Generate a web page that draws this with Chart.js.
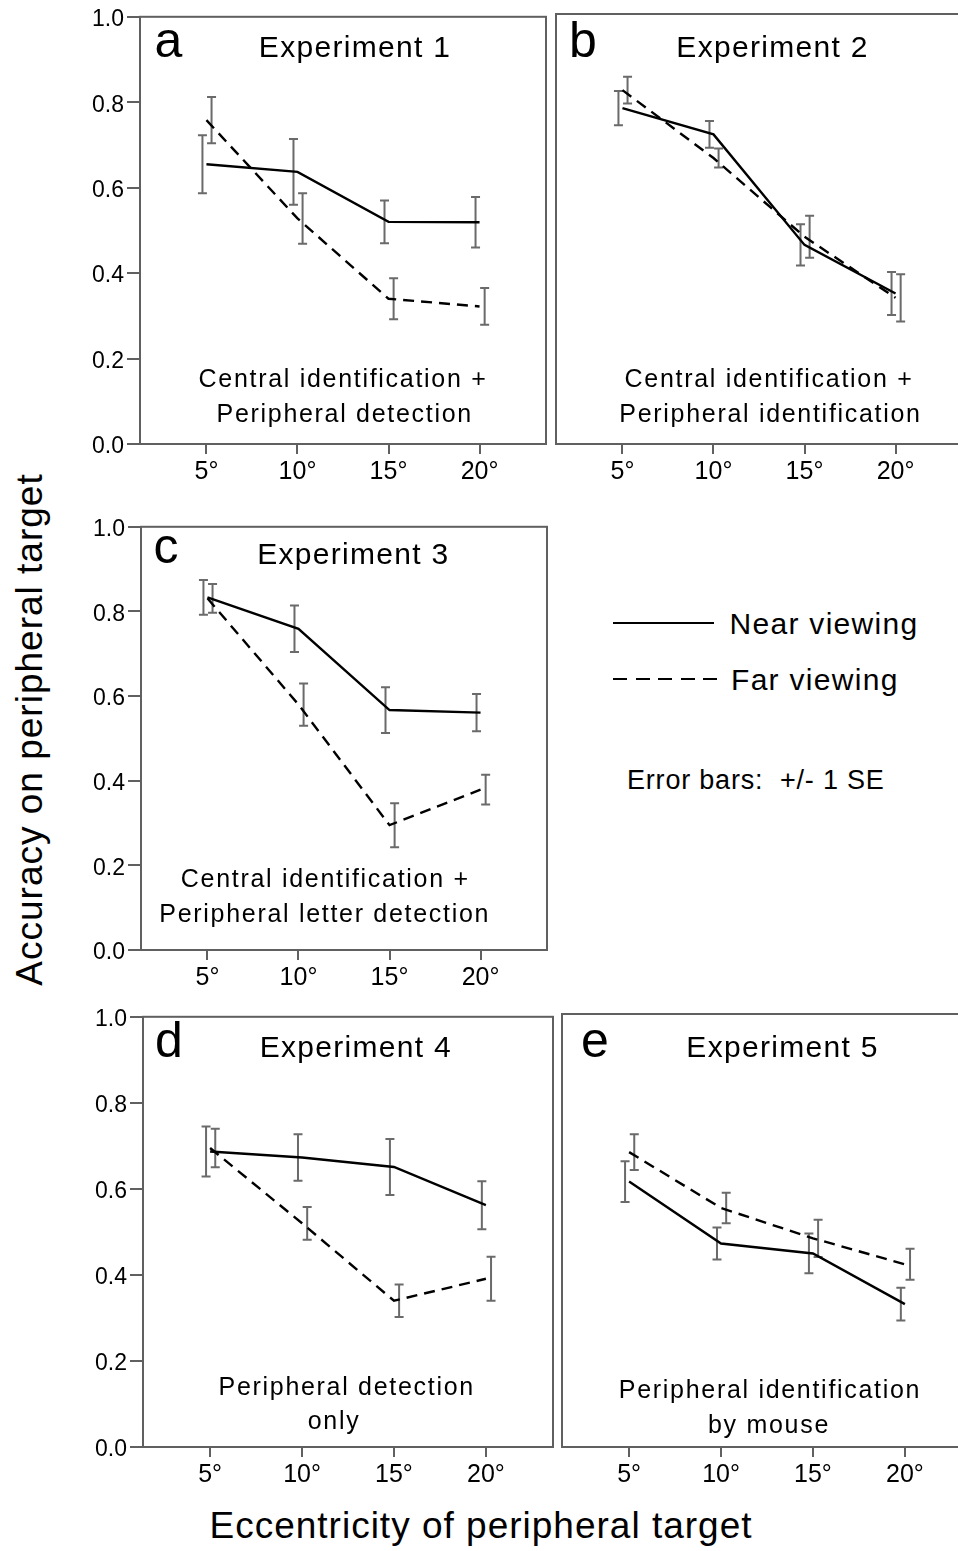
<!DOCTYPE html>
<html>
<head>
<meta charset="utf-8">
<script src="https://cdn.jsdelivr.net/npm/chart.js@4.4.1/dist/chart.umd.min.js"></script>
<style>
  html, body { margin: 0; padding: 0; background: #fff; }
  body { width: 958px; height: 1551px; position: relative; overflow: hidden;
         font-family: "Liberation Sans", Arial, sans-serif; color: #000; }
  canvas { position: absolute; }
  .txt { position: absolute; white-space: pre; line-height: 1; }
</style>
</head>
<body>
<div class="txt" id="ytitle" style="font-size:37px;letter-spacing:1px;width:600px;height:37px;line-height:37px;text-align:center;left:-271px;top:710.5px;transform:rotate(-90deg);">Accuracy on peripheral target</div>
<div class="txt" style="font-size:37px;letter-spacing:1px;width:700px;text-align:center;left:131px;top:1506.7px;">Eccentricity of peripheral target</div>

<div style="position:absolute;left:613px;top:622px;width:101px;height:2px;background:#000;"></div>
<div style="position:absolute;left:613px;top:678px;width:104px;height:2px;background:repeating-linear-gradient(to right,#000 0 14px,transparent 14px 22.5px);"></div>
<div class="txt" style="font-size:30px;letter-spacing:1.3px;left:729.5px;top:608.9px;">Near viewing</div>
<div class="txt" style="font-size:30px;letter-spacing:1.3px;left:731px;top:664.6px;">Far viewing</div>
<div class="txt" style="font-size:27px;letter-spacing:0.8px;left:627px;top:767.1px;">Error bars:  +/- 1 SE</div>

<script>
// 5 つの実験パネルを個別の Chart として描き、誤差棒・枠・文字はプラグインで重ねる。

const eccentricity = [5, 10, 15, 20];
const xTicks = [5, 10, 15, 20];
const yTicks = [0, 0.2, 0.4, 0.6, 0.8, 1.0];

// Experiment 1
const exp1Near = [0.655, 0.637, 0.520, 0.519];
const exp1NearSE = [0.068, 0.077, 0.050, 0.059];
const exp1Far = [0.758, 0.528, 0.340, 0.322];
const exp1FarSE = [0.054, 0.059, 0.048, 0.043];

// Experiment 2
const exp2Near = [0.781, 0.720, 0.463, 0.350];
const exp2NearSE = [0.040, 0.031, 0.048, 0.050];
const exp2Far = [0.823, 0.665, 0.482, 0.340];
const exp2FarSE = [0.031, 0.022, 0.049, 0.055];

// Experiment 3
const exp3Near = [0.833, 0.759, 0.567, 0.561];
const exp3NearSE = [0.041, 0.055, 0.054, 0.044];
const exp3Far = [0.831, 0.580, 0.295, 0.379];
const exp3FarSE = [0.034, 0.050, 0.052, 0.035];

// Experiment 4
const exp4Near = [0.687, 0.673, 0.651, 0.562];
const exp4NearSE = [0.058, 0.054, 0.065, 0.056];
const exp4Far = [0.695, 0.520, 0.340, 0.391];
const exp4FarSE = [0.045, 0.038, 0.038, 0.051];

// Experiment 5
const exp5Near = [0.613, 0.470, 0.447, 0.330];
const exp5NearSE = [0.047, 0.037, 0.046, 0.038];
const exp5Far = [0.681, 0.552, 0.482, 0.422];
const exp5FarSE = [0.041, 0.035, 0.043, 0.036];

const FONT = '"Liberation Sans", Arial, sans-serif';
const BOX_GREY = "#606060";
const ERR_GREY = "#6a6a6a";

const panels = [
  {
    letter: "a", title: "Experiment 1", near: exp1Near, nearSE: exp1NearSE, far: exp1Far, farSE: exp1FarSE,
    box: { l: 140, t: 14, r: 546, b: 444 }, yAxis: true,
    letterPos: [154.5, 57], titlePos: [355, 57.3],
    notes: [["Central identification +", 343, 386.7], ["Peripheral detection", 344.7, 421.5]],
  },
  {
    letter: "b", title: "Experiment 2", near: exp2Near, nearSE: exp2NearSE, far: exp2Far, farSE: exp2FarSE,
    box: { l: 556, t: 14, r: 962, b: 444 }, yAxis: false,
    letterPos: [569, 57], titlePos: [772.5, 57.3],
    notes: [["Central identification +", 769, 386.7], ["Peripheral identification", 770.5, 421.7]],
  },
  {
    letter: "c", title: "Experiment 3", near: exp3Near, nearSE: exp3NearSE, far: exp3Far, farSE: exp3FarSE,
    box: { l: 141, t: 524, r: 547, b: 950 }, yAxis: true,
    letterPos: [153.5, 563.3], titlePos: [353.3, 564],
    notes: [["Central identification +", 325.3, 886.7], ["Peripheral letter detection", 324.7, 921.7]],
  },
  {
    letter: "d", title: "Experiment 4", near: exp4Near, nearSE: exp4NearSE, far: exp4Far, farSE: exp4FarSE,
    box: { l: 143, t: 1014, r: 553, b: 1447 }, yAxis: true,
    letterPos: [155, 1057.3], titlePos: [355.8, 1057.3],
    notes: [["Peripheral detection", 346.7, 1395], ["only", 334, 1429]],
  },
  {
    letter: "e", title: "Experiment 5", near: exp5Near, nearSE: exp5NearSE, far: exp5Far, farSE: exp5FarSE,
    box: { l: 562, t: 1014, r: 972, b: 1447 }, yAxis: false,
    letterPos: [581, 1057.3], titlePos: [782.5, 1057.3],
    notes: [["Peripheral identification", 770, 1398.3], ["by mouse", 769, 1433]],
  },
];

function decorPlugin(p, ox, oy) {
  return {
    id: "panelDecor",
    beforeDatasetsDraw(chart) {
      const ctx = chart.ctx;
      const xs = chart.scales.x;
      const ys = chart.scales.y;
      ctx.save();
      ctx.strokeStyle = ERR_GREY;
      ctx.lineWidth = 2;
      [[p.near, p.nearSE, -0.22], [p.far, p.farSE, 0.28]].forEach(([means, se, off]) => {
        means.forEach((v, i) => {
          const x = xs.getPixelForValue(eccentricity[i] + off);
          const y1 = ys.getPixelForValue(v - se[i]);
          const y2 = ys.getPixelForValue(v + se[i]);
          ctx.beginPath();
          ctx.moveTo(x, y1); ctx.lineTo(x, y2);
          ctx.moveTo(x - 4.5, y1); ctx.lineTo(x + 4.5, y1);
          ctx.moveTo(x - 4.5, y2); ctx.lineTo(x + 4.5, y2);
          ctx.stroke();
        });
      });
      ctx.restore();
    },
    afterDraw(chart) {
      const ctx = chart.ctx;
      const a = chart.chartArea;
      ctx.save();
      ctx.strokeStyle = BOX_GREY;
      ctx.lineWidth = 2;
      ctx.strokeRect(a.left, a.top, a.right - a.left, a.bottom - a.top);

      ctx.fillStyle = "#000";
      ctx.textBaseline = "alphabetic";
      ctx.textAlign = "left";
      ctx.font = `50px ${FONT}`;
      ctx.fillText(p.letter, p.letterPos[0] - ox, p.letterPos[1] - oy);

      ctx.textAlign = "center";
      ctx.font = `30px ${FONT}`;
      ctx.letterSpacing = "1.3px";
      ctx.fillText(p.title, p.titlePos[0] - ox, p.titlePos[1] - oy);

      ctx.font = `25px ${FONT}`;
      ctx.letterSpacing = "1.7px";
      p.notes.forEach(([t, x, y]) => ctx.fillText(t, x - ox, y - oy));
      ctx.restore();
    },
  };
}

function renderPanel(p) {
  const left = p.box.l - 60;
  const top = p.box.t - 14;
  const width = p.box.r - left + 12;
  const height = p.box.b - top + 50;
  const canvas = document.createElement("canvas");
  canvas.width = width;
  canvas.height = height;
  canvas.style.left = left + "px";
  canvas.style.top = top + "px";
  document.body.appendChild(canvas);

  const lineStyle = { borderColor: "#000", borderWidth: 2.4, pointRadius: 0, tension: 0, fill: false };

  const yScale = {
    type: "linear",
    display: p.yAxis,
    min: 0,
    max: 1,
    afterBuildTicks: (s) => { s.ticks = yTicks.map((v) => ({ value: v })); },
    border: { display: false },
    grid: { drawOnChartArea: false, drawTicks: true, tickLength: 13, color: BOX_GREY, lineWidth: 2 },
    ticks: { color: "#000", font: { family: FONT, size: 23 }, padding: 3, labelOffset: 3, callback: (v) => v.toFixed(1) },
  };
  if (p.yAxis) yScale.afterFit = (s) => { s.width = 60; };

  new Chart(canvas.getContext("2d"), {
    type: "line",
    data: {
      datasets: [
        { label: "Near viewing", data: eccentricity.map((x, i) => ({ x, y: p.near[i] })), ...lineStyle },
        { label: "Far viewing", data: eccentricity.map((x, i) => ({ x, y: p.far[i] })), borderDash: [11, 7], ...lineStyle },
      ],
    },
    options: {
      responsive: false,
      animation: false,
      events: [],
      layout: { padding: { left: p.yAxis ? 0 : 60, top: 14, right: 12, bottom: 0 } },
      plugins: { legend: { display: false }, tooltip: { enabled: false } },
      scales: {
        x: {
          type: "linear",
          min: 1.35,
          max: 23.65,
          afterBuildTicks: (s) => { s.ticks = xTicks.map((v) => ({ value: v })); },
          afterFit: (s) => { s.height = 50; },
          border: { display: false },
          grid: { drawOnChartArea: false, drawTicks: true, tickLength: 10, color: BOX_GREY, lineWidth: 2 },
          ticks: { color: "#000", font: { family: FONT, size: 25 }, padding: 3, maxRotation: 0, callback: (v) => v + "°" },
        },
        y: yScale,
      },
    },
    plugins: [decorPlugin(p, left, top)],
  });
}

panels.forEach(renderPanel);
</script>
</body>
</html>
